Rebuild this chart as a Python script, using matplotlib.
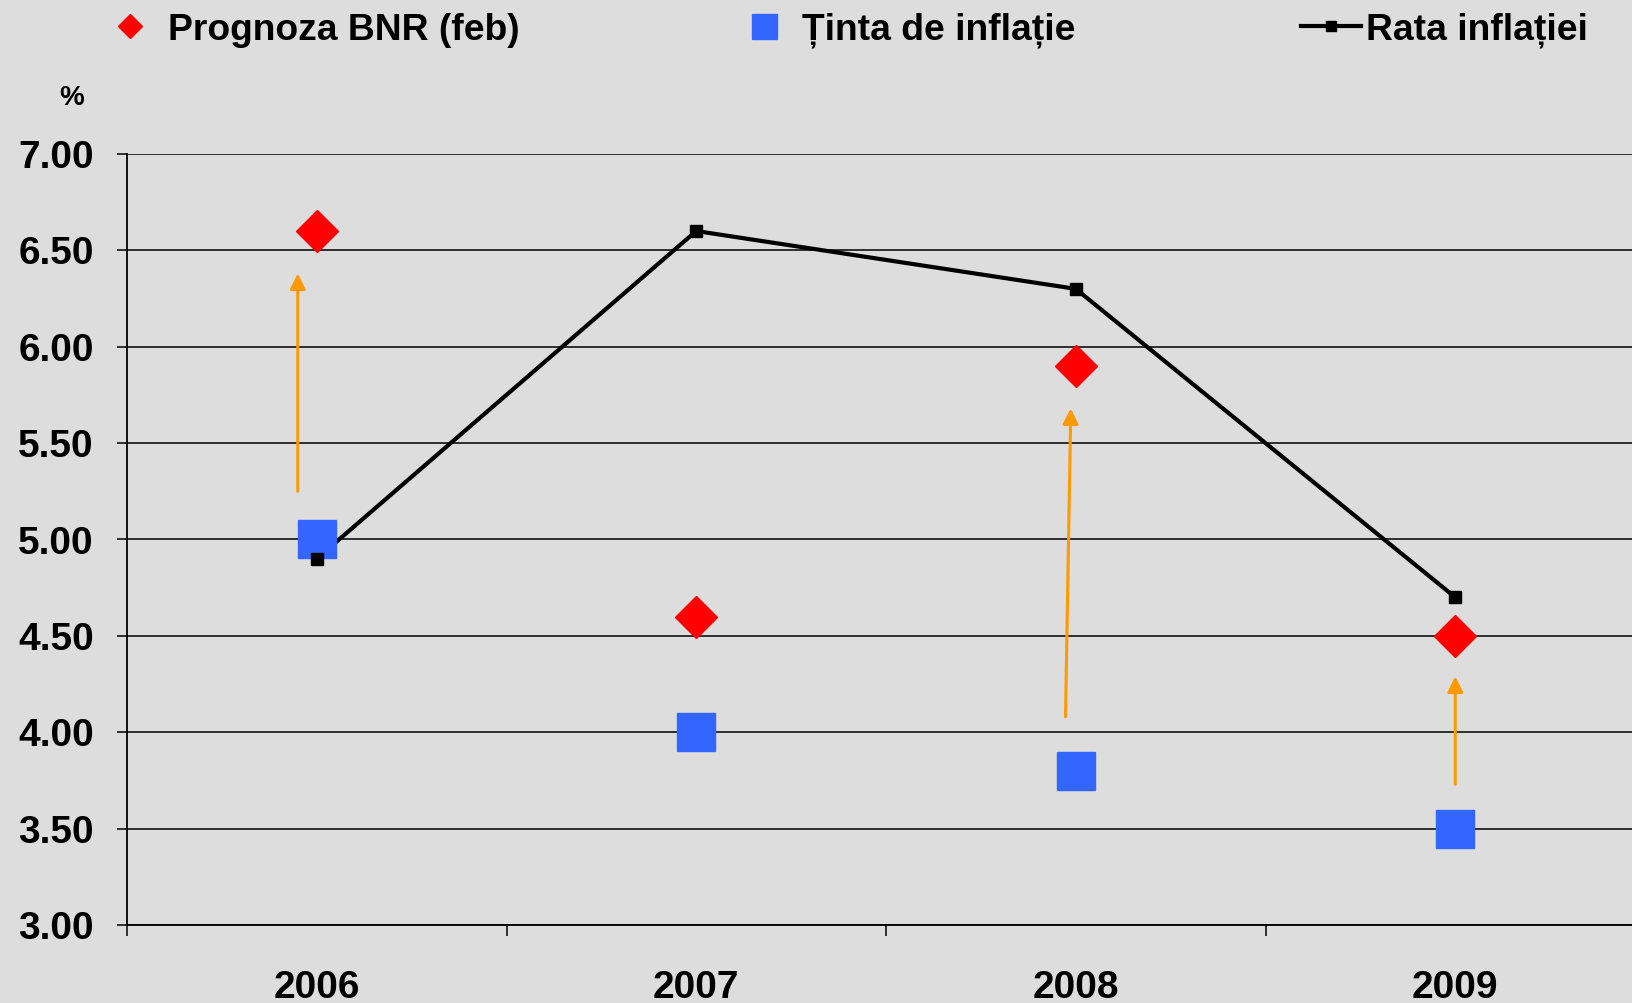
#!/usr/bin/env python3
"""
Inflation: BNR forecast vs target vs actual rate, 2006-2009
"""
import matplotlib
matplotlib.use("Agg")
import matplotlib.pyplot as plt
from matplotlib.lines import Line2D
import numpy as np

plt.rcParams['font.family'] = ['Liberation Sans', 'DejaVu Sans']
plt.rcParams['font.weight'] = 'bold'

years = ['2006', '2007', '2008', '2009']
prognoza = [6.6, 4.6, 5.9, 4.5]
tinta = [5.0, 4.0, 3.8, 3.5]
rata = [4.9, 6.6, 6.3, 4.7]

# orange arrows: (x start, y start, x end, y end) in category units
arrows = [
    (-0.05, 5.25, -0.05, 6.38),
    (1.973, 4.08, 1.987, 5.68),
    (3.0, 3.73, 3.0, 4.29),
]

BG = '#DDDDDD'
RED = '#FF0000'
BLUE = '#3366FF'
ORANGE = '#FF9900'

fig = plt.figure(figsize=(16.32, 10.031), dpi=100, facecolor=BG)
ax = fig.add_axes([127 / 1632, 78 / 1003, 4 * 379.5 / 1632, 771 / 1003])
ax.set_facecolor(BG)

x = np.arange(len(years))

ax.plot(x, rata, color='black', lw=3.0, zorder=2)
ax.plot(x, tinta, 's', color=BLUE, ms=27, mec=BLUE, zorder=3)
ax.plot(x, rata, 's', color='black', ms=8, zorder=4)
ax.plot(x, prognoza, 'D', color=RED, ms=21, mec=RED, zorder=3)

for x0, y0, x1, y1 in arrows:
    ax.annotate('', xy=(x1, y1), xytext=(x0, y0),
                arrowprops=dict(arrowstyle='-|>', color=ORANGE, lw=2.2,
                                mutation_scale=23, shrinkA=0, shrinkB=0),
                zorder=5)

ax.set_xlim(-0.5, 3.5)
ax.set_ylim(3.0, 7.0)
ax.set_yticks(np.arange(3.0, 7.01, 0.5))
ax.set_yticklabels([f"{v:.2f}" for v in np.arange(3.0, 7.01, 0.5)],
                   fontsize=28, fontweight='bold')
ax.set_xticks(x)
ax.set_xticklabels(years, fontsize=28, fontweight='bold')
ax.set_xticks(np.arange(-0.5, 3.6, 1.0), minor=True)
ax.tick_params(axis='x', which='major', length=0, pad=32)
ax.tick_params(axis='x', which='minor', length=8, width=1.1, direction='out')
ax.tick_params(axis='y', length=7, width=1.1, direction='out', pad=17)

ax.grid(axis='y', color='black', lw=1.1, zorder=1)
ax.set_axisbelow(True)
for s in ['top', 'right']:
    ax.spines[s].set_visible(False)
for s in ['left', 'bottom']:
    ax.spines[s].set_linewidth(1.3)

fig.text(72 / 1632, 1 - 98 / 1003, '%', fontsize=20, fontweight='bold',
         ha='center', va='center')

# legend, one entry per block
leg_y = 1 - 30 / 1003
entries = [
    (Line2D([], [], ls='none', marker='D', color=RED, ms=12),
     'Prognoza BNR (feb)', 111 / 1632, 1.0, 0.52),
    (Line2D([], [], ls='none', marker='s', color=BLUE, ms=18),
     'Ținta de inflație', 745 / 1632, 1.0, 0.52),
    (Line2D([], [], color='black', lw=3.0, marker='s', ms=7),
     'Rata inflației', 1301 / 1632, 1.6, 0.15),
]
for handle, label, lx, hl, pad in entries:
    fig.legend([handle], [label], loc='center left',
               bbox_to_anchor=(lx, leg_y), frameon=False, borderpad=0,
               borderaxespad=0, handlelength=hl, handletextpad=pad,
               prop={'size': 26.8, 'weight': 'bold'})

fig.savefig('out.png', dpi=100, facecolor=BG)
